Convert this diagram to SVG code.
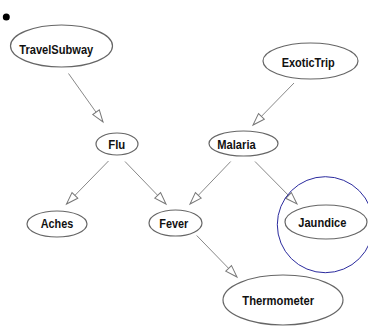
<svg xmlns="http://www.w3.org/2000/svg" width="368" height="326" viewBox="0 0 368 326">
<style>
.node ellipse{fill:#fff;stroke:#666;stroke-width:1.2}
.node text{font-family:"Liberation Sans",Arial,sans-serif;font-weight:bold;font-size:13px;fill:#111}
.edges line{stroke:#888;stroke-width:1}
</style>
<defs>
<marker id="ah" markerUnits="userSpaceOnUse" markerWidth="14" markerHeight="10" refX="12.5" refY="4.5" orient="auto" overflow="visible">
<path d="M0.5,0.5 L12.5,4.5 L0.5,8.5 Z" fill="#fff" stroke="#777" stroke-width="1"/>
</marker>
</defs>
<rect width="368" height="326" fill="#fff"/>
<circle cx="6.3" cy="17" r="3.5" fill="#000"/>
<g class="edges">
<line x1="68.5" y1="73.5" x2="103" y2="122" marker-end="url(#ah)"/>
<line x1="294" y1="83" x2="253" y2="125" marker-end="url(#ah)"/>
<line x1="108.5" y1="161" x2="66.5" y2="204" marker-end="url(#ah)"/>
<line x1="125" y1="161.5" x2="166" y2="204" marker-end="url(#ah)"/>
<line x1="230.7" y1="161.5" x2="190" y2="204" marker-end="url(#ah)"/>
<line x1="255" y1="161.5" x2="297" y2="204" marker-end="url(#ah)"/>
<line x1="196.7" y1="235.5" x2="237" y2="277" marker-end="url(#ah)"/>
</g>
<g id="TravelSubway" class="node"><ellipse cx="61.5" cy="46" rx="51" ry="21"/><text x="19.3" y="54" textLength="74" lengthAdjust="spacingAndGlyphs">TravelSubway</text></g>
<g id="ExoticTrip" class="node"><ellipse cx="310.5" cy="61" rx="47.5" ry="18"/><text x="281.7" y="66.5" textLength="53" lengthAdjust="spacingAndGlyphs">ExoticTrip</text></g>
<g id="Flu" class="node"><ellipse cx="117" cy="144" rx="21" ry="11"/><text x="108.3" y="148.5" textLength="17" lengthAdjust="spacingAndGlyphs">Flu</text></g>
<g id="Malaria" class="node"><ellipse cx="243.5" cy="143.5" rx="34.5" ry="12.5"/><text x="217.3" y="148.5" textLength="38.4" lengthAdjust="spacingAndGlyphs">Malaria</text></g>
<g id="Aches" class="node"><ellipse cx="57" cy="224" rx="30" ry="13"/><text x="40.7" y="227.5" textLength="32.6" lengthAdjust="spacingAndGlyphs">Aches</text></g>
<g id="Fever" class="node"><ellipse cx="175.5" cy="223" rx="26.5" ry="13"/><text x="159.3" y="227.5" textLength="29" lengthAdjust="spacingAndGlyphs">Fever</text></g>
<g id="Jaundice" class="node"><ellipse cx="326" cy="222" rx="41" ry="17"/><text x="298.3" y="227" textLength="48" lengthAdjust="spacingAndGlyphs">Jaundice</text></g>
<g id="Thermometer" class="node"><ellipse cx="283" cy="300" rx="60" ry="25"/><text x="242.3" y="305" textLength="71.7" lengthAdjust="spacingAndGlyphs">Thermometer</text></g>
<circle cx="325.3" cy="224.7" r="48" fill="none" stroke="#2b2b9e" stroke-width="1"/>
</svg>
